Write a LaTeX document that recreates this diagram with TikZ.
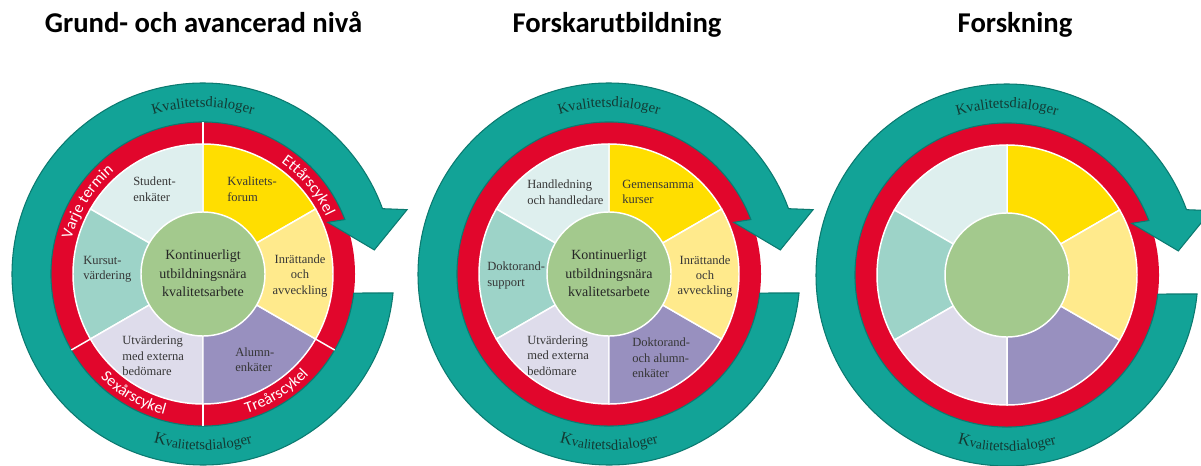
\documentclass[tikz,border=0pt]{standalone}
\usepackage{fontspec}
\setmainfont{Liberation Serif}
\newfontfamily\carlito{Carlito}
\usetikzlibrary{decorations.text}
\definecolor{teal1}{HTML}{12A397}
\definecolor{tealdk}{HTML}{0B7A70}
\definecolor{ringred}{HTML}{E1062C}
\definecolor{segyel}{HTML}{FFDE00}
\definecolor{seglyel}{HTML}{FFEA8C}
\definecolor{segpur}{HTML}{9890BF}
\definecolor{seglav}{HTML}{DEDCEB}
\definecolor{segcyan}{HTML}{DEEFEE}
\definecolor{segteal}{HTML}{9DD3C8}
\definecolor{hubgreen}{HTML}{A3C98D}
\definecolor{kvtext}{HTML}{133A33}
\definecolor{segtext}{HTML}{363636}

\newcommand{\kvfont}{\color{kvtext}\fontsize{11}{13}\selectfont}
\newcommand{\kvbig}{\color{kvtext}\fontsize{12.5}{14}\selectfont}
\newcommand{\kvsmall}{\color{kvtext}\fontsize{10}{12}\selectfont}
\newcommand{\redlab}{\color{white}\carlito\fontsize{12}{14}\selectfont}

\newcommand{\wheelsector}[3]{%
  \fill[#1, draw=white, line width=1.1] (0,0) -- (#2:130) arc[start angle=#2, end angle=#3, radius=130] -- cycle;}

\newcommand{\wheelbase}[1]{%
\begin{scope}[shift={#1}]
  \fill[ringred] (0,0) circle[radius=152];
  \wheelsector{segyel}{30}{90}
  \wheelsector{segcyan}{90}{150}
  \wheelsector{segteal}{150}{210}
  \wheelsector{seglav}{210}{270}
  \wheelsector{segpur}{270}{330}
  \wheelsector{seglyel}{-30}{30}
  \fill[hubgreen, draw=white, line width=1.1] (0,0) circle[radius=62];
  \fill[teal1, draw=tealdk, line width=0.8] (-5.7:191) arc[start angle=-5.7, end angle=-340, radius=191]
     -- (-342.5:214) -- (-352:173) -- (-337.5:135) -- (-339:152)
     arc[start angle=-339, end angle=-7.2, radius=152] -- cycle;
  \path[decorate, decoration={text along path, text align=center, text={|\kvfont|Kvalitetsdialoger}}]
     (125:167) arc[start angle=125, end angle=55, radius=167];
  \path[decorate, decoration={text along path, text align=center, text={|\kvbig|K|\kvsmall|vali|\kvfont|tetsdialoger}}]
     (235:176) arc[start angle=235, end angle=305, radius=176];
\end{scope}}

\tikzset{
  titletext/.style={font=\carlito\bfseries\fontsize{21.5}{25}\selectfont, text=black, inner sep=0pt},
  segtxt/.style={font=\fontsize{9.4}{11.6}\selectfont, text=segtext, inner sep=0pt, align=left, anchor=west},
  segtxtc/.style={font=\fontsize{9.4}{11.6}\selectfont, text=segtext, inner sep=0pt, align=center},
  hubtext/.style={font=\fontsize{10.5}{13.9}\selectfont, text=black!85, inner sep=0pt, align=center}
}

\begin{document}
\begin{tikzpicture}[x=0.75pt, y=0.75pt]
\useasboundingbox (0,0) rectangle (1201,465);
\clip (0,0) rectangle (1201,465);

% titles
\node[titletext, anchor=base] (t1) at (203.5,432) {Grund- och avancerad nivå};
\node[titletext, anchor=base] (t2) at (617,432) {Forskarutbildning};
\node[titletext, anchor=base] (t3) at (1015,432) {Forskning};

% wheels
\wheelbase{(203,191)}
\wheelbase{(609,191)}
\wheelbase{(1007,190)}

% wheel 1: ring dividers and labels
\begin{scope}[shift={(203,191)}]
  \foreach \a in {90,210,270,330} \draw[white, line width=1.1] (\a:130) -- (\a:152);
  \path[decorate, decoration={text along path, text align=center, text={|\redlab|Varje termin}}]
     (190:136) arc[start angle=190, end angle=106, radius=136];
  \path[decorate, decoration={text along path, text align=center, text={|\redlab|Ettårscykel}}]
     (75:136) arc[start angle=75, end angle=5, radius=136];
  \path[decorate, decoration={text along path, text align=center, text={|\redlab|Sexårscykel}}]
     (200:146) arc[start angle=200, end angle=280, radius=146];
  \path[decorate, decoration={text along path, text align=center, text={|\redlab|Treårscykel}}]
     (262:146) arc[start angle=262, end angle=342, radius=146];
\end{scope}

% wheel 1 texts
\node[segtxt] (st1) at (133,276) {Student-\\enkäter};
\node[segtxt] (kf1) at (227,276) {Kvalitets-\\forum};
\node[segtxt] (ku1) at (83,195.5) {Kursut-\\värdering};
\node[hubtext] (hub1) at (203,191.5) {Kontinuerligt\\utbildningsnära\\kvalitetsarbete};
\node[segtxtc] (ia1) at (300,189) {Inrättande\\och\\avveckling};
\node[segtxt] (ut1) at (122,109) {Utvärdering\\med externa\\bedömare};
\node[segtxt] (al1) at (235,105.5) {Alumn-\\enkäter};

% wheel 2 texts
\node[segtxt] (hl2) at (527,273) {Handledning\\och handledare};
\node[segtxt] (gk2) at (622,273) {Gemensamma\\kurser};
\node[segtxt] (ds2) at (487,189.5) {Doktorand-\\support};
\node[hubtext] (hub2) at (609,191.5) {Kontinuerligt\\utbildningsnära\\kvalitetsarbete};
\node[segtxtc] (ia2) at (705,188.5) {Inrättande\\och\\avveckling};
\node[segtxt] (ut2) at (527,109.5) {Utvärdering\\med externa\\bedömare};
\node[segtxt] (da2) at (632,107) {Doktorand-\\och alumn-\\enkäter};
\end{tikzpicture}
\end{document}
